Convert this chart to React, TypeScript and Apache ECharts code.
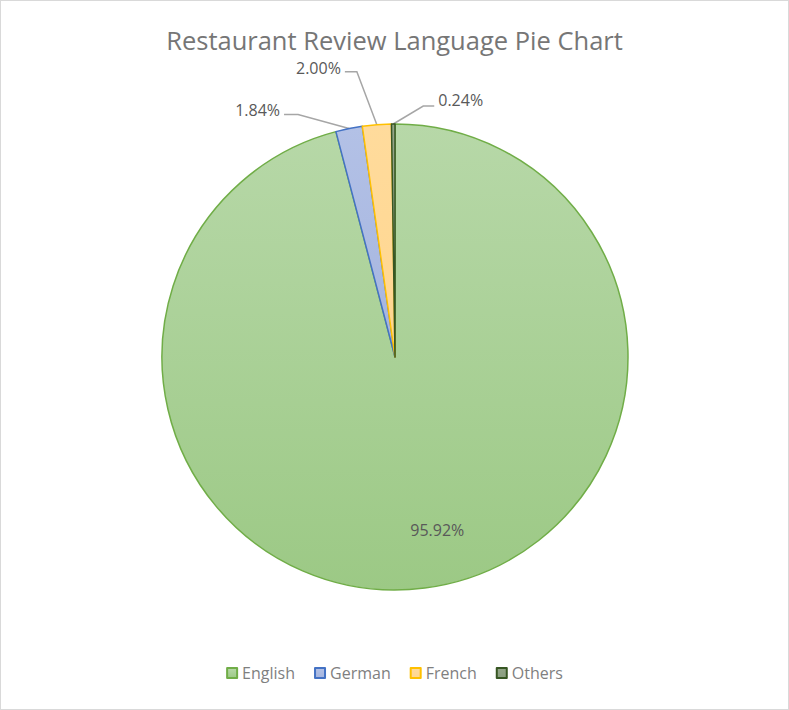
import React, { useEffect, useRef } from "react";
import * as echarts from "echarts";

const categories = ["English", "German", "French", "Others"];
const values = [95.92, 1.84, 2.0, 0.24];
const fillTop = ["#b7d8a8", "#b3c1e6", "#ffdb9c", "#93a588"];
const fillBottom = ["#9cc985", "#a5b5df", "#ffd68f", "#8a9e7f"];
const borders = ["#70ad47", "#4472c4", "#ffc000", "#375623"];
// leader-line elbow offsets (relative to the slice edge) and label side
const elbowOffsets: [number, number][] = [[0, 0], [-51, -14], [-20, -53], [30, -18]];
const tailLengths = [0, -14, -12, 11];
const labelLift = [0, 5, 4, 6];

export default function App() {
  const ref = useRef<HTMLDivElement>(null);
  useEffect(() => {
    if (!ref.current) return;
    const chart = echarts.init(ref.current, null, { renderer: "svg" });
    const center = [394, 356];
    const radius = 233;
    const total = values.reduce((a, b) => a + b, 0);
    chart.setOption({
      animation: false,
      backgroundColor: "#ffffff",
      title: {
        text: "Restaurant Review Language Pie Chart",
        left: "center",
        top: 25,
        padding: 0,
        textStyle: {
          fontFamily: "Open Sans",
          fontSize: 25.5,
          lineHeight: 28,
          fontWeight: "normal",
          color: "#767676",
        },
      },
      legend: {
        bottom: 23,
        left: "center",
        itemWidth: 10,
        itemHeight: 10,
        itemGap: 19,
        icon: "rect",
        textStyle: { fontFamily: "Open Sans", fontSize: 16, color: "#7f7f7f" },
        data: categories,
      },
      series: [
        {
          type: "pie",
          center,
          radius,
          startAngle: 90,
          clockwise: true,
          avoidLabelOverlap: false,
          data: categories.map((c, i) => ({
            name: c,
            value: values[i],
            itemStyle: {
              color: new echarts.graphic.LinearGradient(0, 0, 0, 1, [
                { offset: 0, color: fillTop[i] },
                { offset: 1, color: fillBottom[i] },
              ]),
              borderColor: borders[i],
              borderWidth: 1.5,
            },
            label: i === 0 ? { position: "inside" } : { position: "outside" },
          })),
          label: {
            formatter: (p: any) => p.value.toFixed(2) + "%",
            fontFamily: "Open Sans",
            fontSize: 16,
            lineHeight: 14,
            color: "#595959",
          },
          labelLine: {
            show: true,
            length: 18,
            length2: 10,
            lineStyle: { color: "#a6a6a6", width: 1.5 },
          },
          labelLayout: (p: any) => {
            const i = p.dataIndex;
            if (i === 0) return { dx: 27, dy: 54 };
            let start: number[];
            if (p.labelLinePoints && p.labelLinePoints[0]) {
              start = p.labelLinePoints[0];
            } else {
              let acc = 0;
              for (let k = 0; k < i; k++) acc += values[k];
              const mid = ((acc + values[i] / 2) / total) * Math.PI * 2;
              const ang = Math.PI / 2 - mid;
              start = [center[0] + radius * Math.cos(ang), center[1] - radius * Math.sin(ang)];
            }
            const elbow = [start[0] + elbowOffsets[i][0], start[1] + elbowOffsets[i][1]];
            const end = [elbow[0] + tailLengths[i], elbow[1]];
            const right = tailLengths[i] > 0;
            return {
              x: end[0] + (right ? 4 : -4),
              y: end[1] - labelLift[i],
              align: right ? "left" : "right",
              verticalAlign: "middle",
              labelLinePoints: [start, elbow, end],
            };
          },
        },
      ],
    });
    return () => chart.dispose();
  }, []);
  return (
    <div
      style={{
        position: "fixed",
        left: 0,
        top: 0,
        width: 789,
        height: 710,
        boxSizing: "border-box",
        border: "1px solid #d9d9d9",
        background: "#fff",
      }}
    >
      <div ref={ref} style={{ width: 787, height: 708 }} />
    </div>
  );
}
